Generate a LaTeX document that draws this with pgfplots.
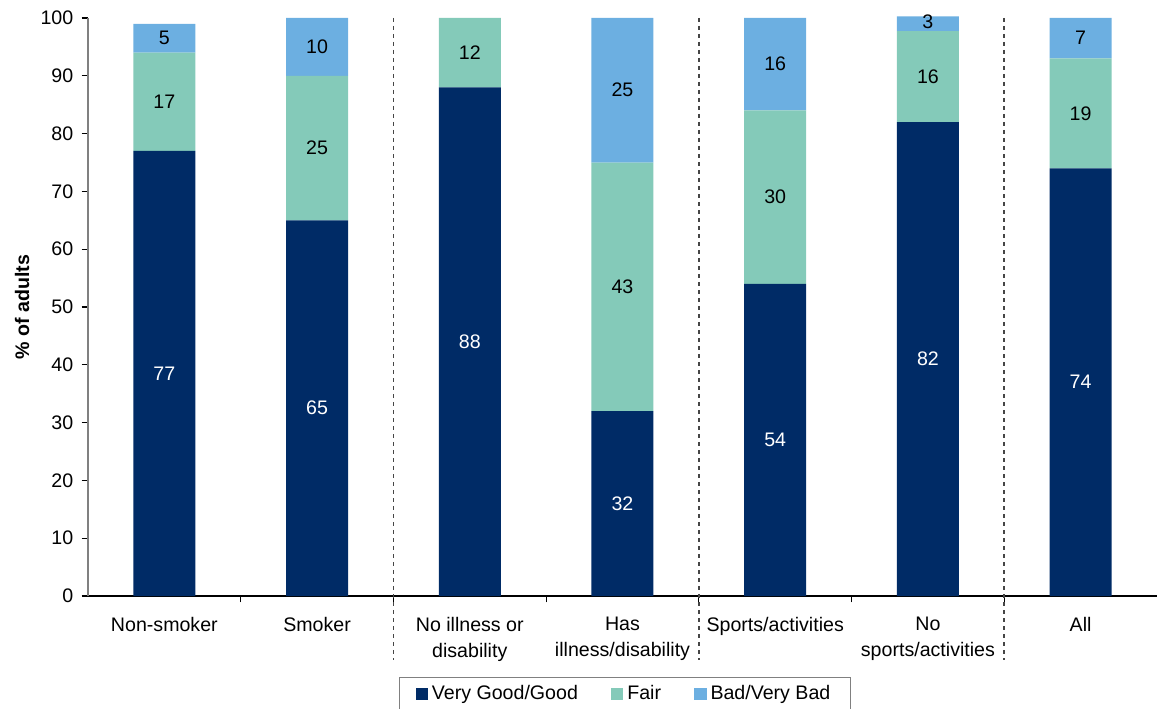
\documentclass[border=0pt]{standalone}
\usepackage{fontspec}
\setmainfont{Liberation Sans}
\usepackage{pgfplots}
\pgfplotsset{compat=1.18}
\definecolor{cdark}{RGB}{0,43,102}
\definecolor{cfair}{RGB}{132,202,185}
\definecolor{cbad}{RGB}{108,175,225}
\begin{document}
\fontsize{9.8}{13}\selectfont
\begin{tikzpicture}
\pgfplotsset{
  base/.style={
    scale only axis, width=534.5pt, height=289pt,
    xmin=-0.5, xmax=6.5, ymin=0, ymax=100,
    anchor=south west, at={(0,0)},
  }
}
\begin{axis}[base, ybar stacked, bar width=31pt, clip=false,
  /pgf/number format/assume math mode=true,
  axis x line*=bottom, axis y line*=left,
  x axis line style={black, line width=0.6pt},
  y axis line style={draw=gray, line width=0.9pt},
  xtick={0.5,1.5,...,5.5},
  xticklabels={},
  x tick style={black, line width=0.6pt},
  extra x ticks={0,...,6},
  extra x tick labels={Non-smoker, Smoker, {No illness or\\disability}, {Has\\illness/disability}, Sports/activities, {No\\sports/activities}, All},
  extra x tick style={major tick length=0pt, tick style={draw=none},
    tick label style={align=center, font=\fontsize{9.8}{13}\selectfont, yshift=-7pt}},
  ytick={0,10,...,100},
  y tick style={black, line width=0.6pt},
  yticklabel style={font=\fontsize{9.8}{12}\selectfont, xshift=-0.7pt},
  tick align=outside, major tick length=3.2pt,
  ylabel={\textbf{\% of adults}},
  ylabel style={at={(axis description cs:-0.0617,0.5)}, anchor=center},
  legend style={at={(0.5023,-0.14)}, anchor=north, legend columns=-1,
    draw=gray, line width=0.6pt, font=\fontsize{9.8}{12}\selectfont,
    inner xsep=8pt,
    /tikz/every even column/.append style={column sep=14.5pt}},
  legend image code/.code={\fill[#1] (0pt,-3.1pt) rectangle (6.2pt,3.1pt);},
]
\addplot[fill=cdark, draw=none] coordinates {(0,77) (1,65) (2,88) (3,32) (4,54) (5,82) (6,74)};
\addplot[fill=cfair, draw=none] coordinates {(0,17) (1,25) (2,12) (3,43) (4,30) (5,15.75) (6,19)};
\addplot[fill=cbad, draw=none] coordinates {(0,5) (1,10) (2,0) (3,25) (4,16) (5,2.55) (6,7)};
\legend{Very Good/Good, Fair, Bad/Very Bad}
\foreach \xx in {1.5,3.5,5.5}{
  \edef\tmp{\noexpand\draw[gray!55!black, line width=0.8pt, dash pattern=on 2pt off 2pt] (axis cs:\xx,100) -- ([yshift=-32pt]axis cs:\xx,0);}
  \tmp
}
\end{axis}
\begin{axis}[base, hide axis, clip=false]
\addplot[draw=none, mark=none, nodes near coords, point meta=explicit symbolic,
  every node near coord/.append style={anchor=center, text=white, font=\fontsize{9.8}{12}\selectfont}]
  table[meta=l] {
x y l
0 38.5 77
1 32.5 65
2 44 88
3 16 32
4 27 54
5 41 82
6 37 74
};
\addplot[draw=none, mark=none, nodes near coords, point meta=explicit symbolic,
  every node near coord/.append style={anchor=center, text=black, font=\fontsize{9.8}{12}\selectfont}]
  table[meta=l] {
x y l
0 85.5 17
1 77.5 25
2 94 12
3 53.5 43
4 69 30
5 89.9 16
6 83.5 19
0 96.5 5
1 95 10
3 87.5 25
4 92 16
5 99.4 3
6 96.5 7
};
\end{axis}
\pgfresetboundingbox
\path (-44pt,-56pt) rectangle (535pt,298pt);
\end{tikzpicture}
\end{document}
